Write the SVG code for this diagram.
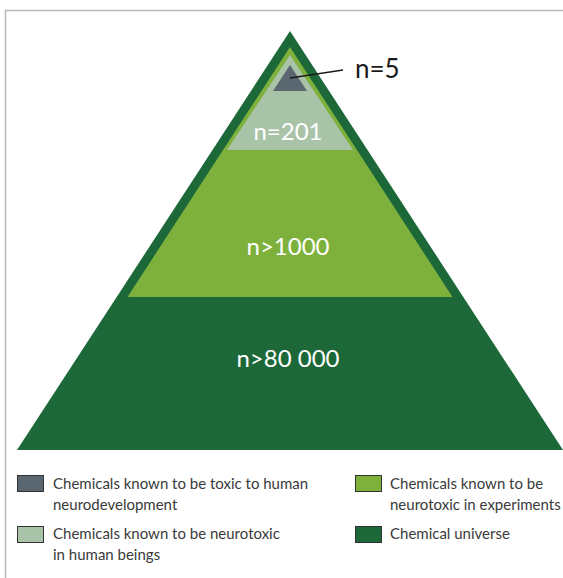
<svg xmlns="http://www.w3.org/2000/svg" width="563" height="578" viewBox="0 0 563 578">
  <style>
    .lbl { font-family: Lato, "Open Sans", "Liberation Sans", sans-serif; fill: #ffffff; text-anchor: middle; font-size: 24px; }
    .leg { font-family: Lato, "Open Sans", "Liberation Sans", sans-serif; fill: #3a3a3a; font-size: 15px; }
    .box { stroke: #333333; stroke-width: 1; }
  </style>
  <rect width="563" height="578" fill="#ffffff"/>
  <g id="frame" fill="none" stroke="#b3b8bb" stroke-width="1.5">
    <path d="M5.5 578 V10.5 H563"/>
  </g>
  <g id="universe">
    <polygon points="290,31 563,450 17,450" fill="#1c6838"/>
    <text class="lbl" x="288" y="367">n&gt;80 000</text>
  </g>
  <g id="experiments">
    <polygon points="290,47 452.5,297 127.5,297" fill="#7db13c"/>
    <text class="lbl" x="288" y="255">n&gt;1000</text>
  </g>
  <g id="human-beings">
    <polygon points="290,55 353,150 227,150" fill="#a9c3a8"/>
    <text class="lbl" x="288" y="140">n=201</text>
  </g>
  <g id="neurodevelopment">
    <polygon points="290,65 307,91 273,91" fill="#5b6770"/>
    <text x="355" y="78" font-family="Lato, 'Open Sans', 'Liberation Sans', sans-serif" font-size="26" fill="#1a1a1a">n=5</text>
  </g>
  <g id="connectors">
    <line x1="290" y1="78" x2="343" y2="70" stroke="#1a1a1a" stroke-width="1.3"/>
  </g>
  <g id="legend">
    <rect class="box" x="17.5" y="475.5" width="26" height="16" fill="#5b6770"/>
    <text class="leg" x="53" y="489">Chemicals known to be toxic to human</text>
    <text class="leg" x="53" y="510">neurodevelopment</text>
    <rect class="box" x="17.5" y="526.5" width="26" height="16" fill="#a9c3a8"/>
    <text class="leg" x="53" y="539">Chemicals known to be neurotoxic</text>
    <text class="leg" x="53" y="560">in human beings</text>
    <rect class="box" x="355.5" y="475.5" width="26" height="16" fill="#7db13c"/>
    <text class="leg" x="390" y="489">Chemicals known to be</text>
    <text class="leg" x="390" y="510">neurotoxic in experiments</text>
    <rect class="box" x="355.5" y="526.5" width="26" height="16" fill="#1c6838"/>
    <text class="leg" x="390" y="539">Chemical universe</text>
  </g>
</svg>
